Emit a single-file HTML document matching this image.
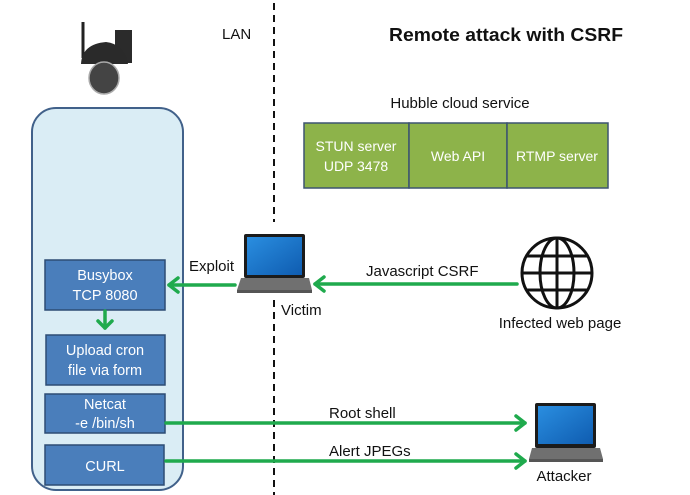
<!DOCTYPE html>
<html><head><meta charset="utf-8"><style>
html,body{margin:0;padding:0;background:#fff;}
svg{display:block;font-family:"Liberation Sans",sans-serif;}
</style></head><body>
<svg width="690" height="495" viewBox="0 0 690 495" xmlns="http://www.w3.org/2000/svg">
<defs>
<linearGradient id="scr" x1="0" y1="0" x2="1" y2="1"><stop offset="0" stop-color="#2a8ee0"/><stop offset="1" stop-color="#0f5cb0"/></linearGradient>
</defs>
<line x1="274" y1="3" x2="274" y2="222" stroke="#111" stroke-width="2" stroke-dasharray="7,5"/>
<line x1="274" y1="300" x2="274" y2="495" stroke="#111" stroke-width="2" stroke-dasharray="7,5"/>
<text x="222" y="39" font-size="15" fill="#111">LAN</text>
<text x="389" y="41" font-size="18" font-weight="bold" fill="#111" textLength="234" lengthAdjust="spacingAndGlyphs">Remote attack with CSRF</text>

<!-- camera -->
<line x1="83" y1="22" x2="83" y2="58" stroke="#222" stroke-width="3"/>
<rect x="115" y="30" width="17" height="33" fill="#2b2b2b"/>
<path d="M81 64 Q82 44 106 42 Q124 44 128 64 Z" fill="#2a2a2a"/>
<ellipse cx="104" cy="78" rx="15" ry="16" fill="#444" stroke="#aaa" stroke-width="1.5"/>

<text x="460" y="108" font-size="15" text-anchor="middle" fill="#111">Hubble cloud service</text>
<g stroke="#3d5470" stroke-width="1.5" fill="#8db34a">
<rect x="304" y="123" width="105" height="65"/>
<rect x="409" y="123" width="98" height="65"/>
<rect x="507" y="123" width="101" height="65"/>
</g>
<g fill="#fff" font-size="14" text-anchor="middle">
<text x="356" y="151">STUN server</text>
<text x="356" y="171">UDP 3478</text>
<text x="458" y="161">Web API</text>
<text x="557" y="161">RTMP server</text>
</g>

<rect x="32" y="108" width="151" height="382" rx="24" fill="#daedf5" stroke="#41618a" stroke-width="2"/>
<g fill="#4a7ebb" stroke="#2c4d75" stroke-width="1.5">
<rect x="45" y="260" width="120" height="50"/>
<rect x="46" y="335" width="119" height="50"/>
<rect x="45" y="394" width="120" height="39"/>
<rect x="45" y="445" width="119" height="40"/>
</g>
<g fill="#fff" font-size="14.5" text-anchor="middle">
<text x="105" y="280">Busybox</text>
<text x="105" y="300">TCP 8080</text>
<text x="105" y="355">Upload cron</text>
<text x="105" y="375">file via form</text>
<text x="105" y="409">Netcat</text>
<text x="105" y="428">-e /bin/sh</text>
<text x="105" y="471">CURL</text>
</g>

<g stroke="#1faa4d" stroke-width="3.5" fill="none" stroke-linecap="round" stroke-linejoin="round">
<line x1="105" y1="311" x2="105" y2="328"/>
<polyline points="98,321 105,328 112,321"/>
<line x1="235" y1="285" x2="169" y2="285"/>
<polyline points="178,278 169,285 178,292"/>
<line x1="517" y1="284" x2="315" y2="284"/>
<polyline points="324,277 315,284 324,291"/>
<line x1="166" y1="423" x2="525" y2="423"/>
<polyline points="516,416 525,423 516,430"/>
<line x1="166" y1="461" x2="525" y2="461"/>
<polyline points="516,454 525,461 516,468"/>
</g>
<g font-size="15" fill="#111">
<text x="189" y="271">Exploit</text>
<text x="366" y="276">Javascript CSRF</text>
<text x="329" y="418">Root shell</text>
<text x="329" y="456">Alert JPEGs</text>
<text x="281" y="315">Victim</text>
<text x="560" y="328" text-anchor="middle">Infected web page</text>
<text x="564" y="481" text-anchor="middle">Attacker</text>
</g>

<rect x="244" y="234" width="61" height="44" rx="2" fill="#1b1b1b"/>
<rect x="247" y="237" width="55" height="38" fill="url(#scr)"/>
<path d="M241 278 L309 278 L312 290 L237 290 Z" fill="#707070"/>
<rect x="237" y="290" width="75" height="3" fill="#555"/>

<rect x="535" y="403" width="61" height="45" rx="2" fill="#1b1b1b"/>
<rect x="538" y="406" width="55" height="38" fill="url(#scr)"/>
<path d="M532 448 L600 448 L603 459 L529 459 Z" fill="#707070"/>
<rect x="529" y="459" width="74" height="3" fill="#555"/>

<g stroke="#111" stroke-width="3" fill="none">
<circle cx="557" cy="273" r="35"/>
<ellipse cx="557" cy="273" rx="17" ry="35"/>
<line x1="557" y1="238" x2="557" y2="308"/>
<line x1="522" y1="273" x2="592" y2="273"/>
<line x1="527" y1="256" x2="587" y2="256"/>
<line x1="527" y1="290" x2="587" y2="290"/>
</g>
</svg>
</body></html>
